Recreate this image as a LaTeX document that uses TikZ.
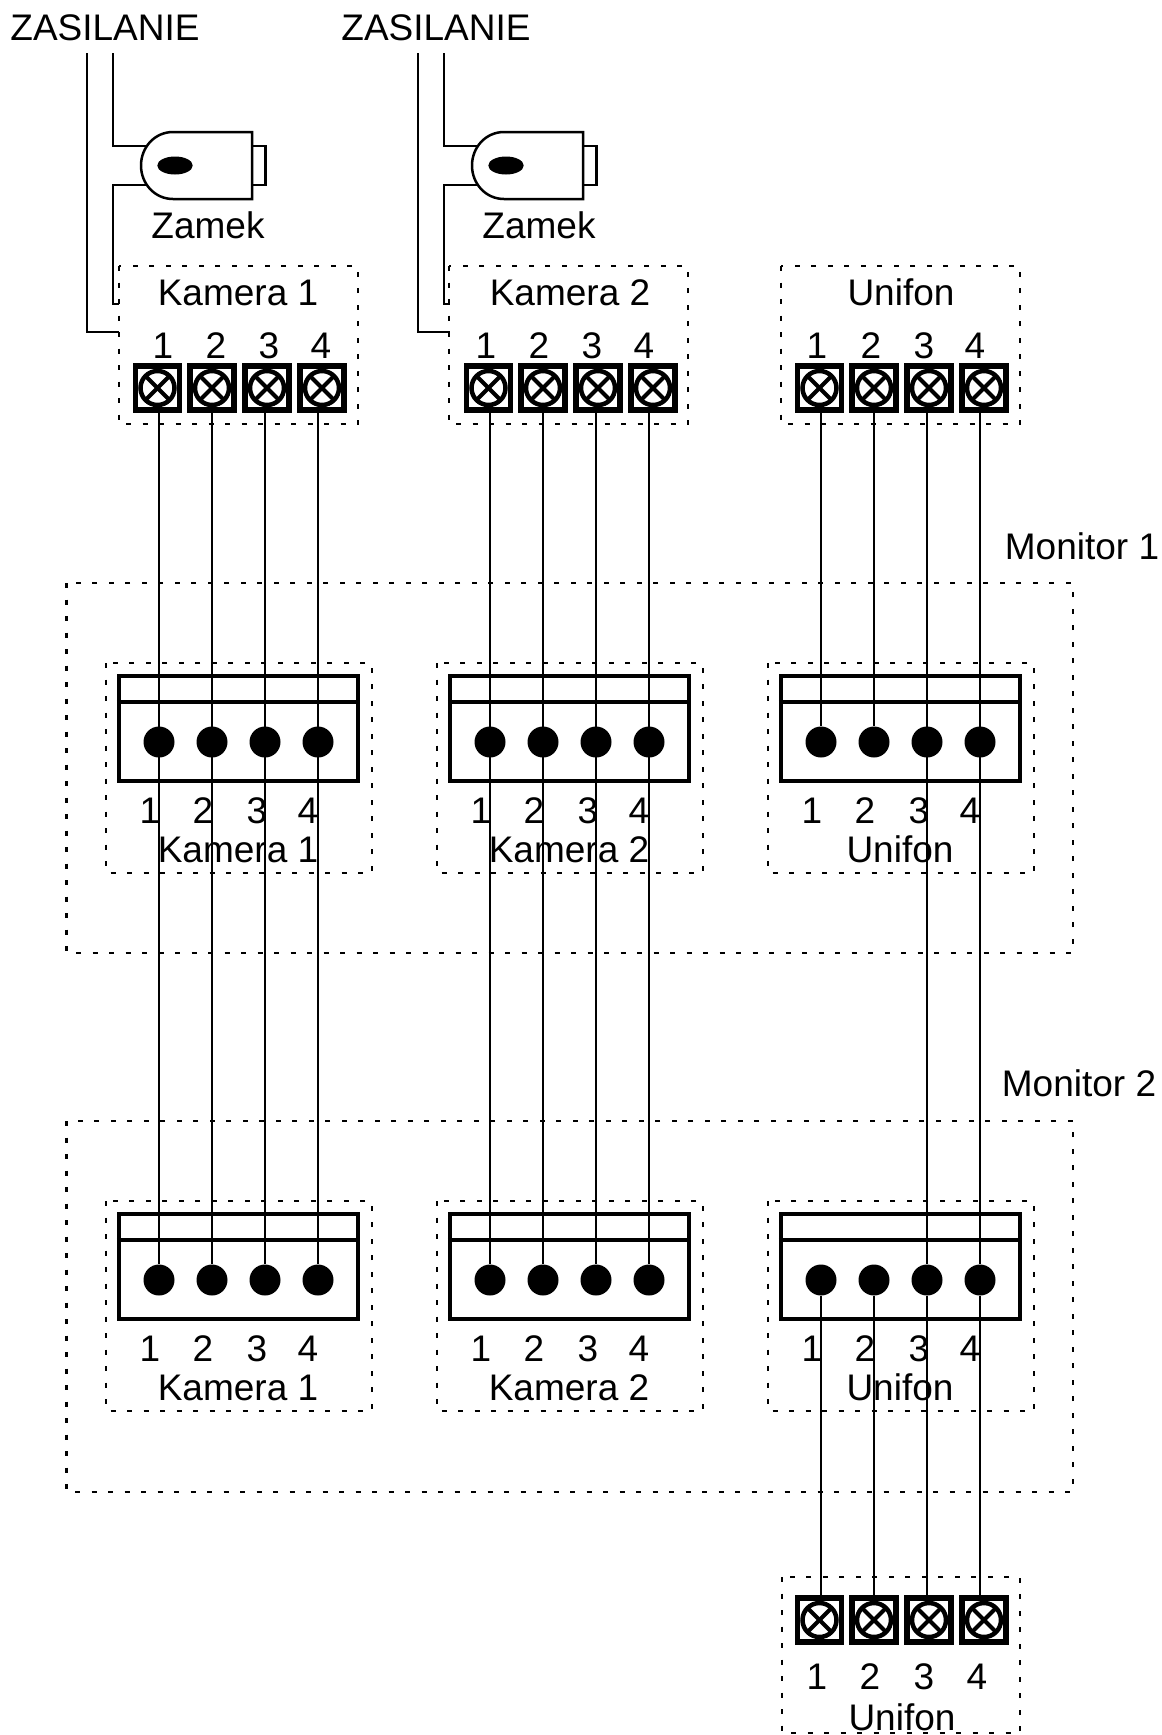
\documentclass[tikz,border=0pt]{standalone}
\usepackage{fontspec}
\setmainfont{Liberation Sans}
\tikzset{
  napis/.style={font=\fontsize{37}{37}\selectfont, anchor=base, inner sep=0pt},
  ramka/.style={line width=2.8pt, dash pattern=on 5pt off 11.5pt},
  przewod/.style={line width=2.5pt},
  zacisk/.style={rectangle, draw, line width=5.5pt, minimum size=44pt, inner sep=0pt,
    path picture={
      \draw[line width=4.5pt] (path picture bounding box.center) circle (17pt);
      \draw[line width=4pt] ([shift={(45:18pt)}]path picture bounding box.center) -- ([shift={(225:18pt)}]path picture bounding box.center);
      \draw[line width=4pt] ([shift={(135:18pt)}]path picture bounding box.center) -- ([shift={(315:18pt)}]path picture bounding box.center);
    }},
  styk/.style={circle, fill, minimum size=31pt, inner sep=0pt},
  kostka/.style={rectangle, draw, line width=4.5pt, minimum width=239pt, minimum height=105pt, inner sep=0pt}
}
% gniazdo monitora: nazwa, przesuniecie x, przesuniecie y, opis
\newcommand{\gniazdo}[4]{
  \begin{scope}[xshift=#2pt, yshift=-#3pt]
    \draw[ramka] (106,663) rectangle (372,873);
    \node[kostka] (#1) at (238.5,728.5) {};
    \draw[line width=4pt] (#1.west |- 0,702) -- (#1.east |- 0,702);
    \foreach \n/\x/\t in {1/159/150,2/212/203,3/265/257,4/318/308} {
      \node[styk] (#1s\n) at (\x,742) {};
      \node[napis] (#1n\n) at (\t,823) {\n};
    }
    \node[napis] (#1o) at (238,862) {#4};
  \end{scope}
}
% listwa zaciskow: nazwa, przesuniecie x, y srodka
\newcommand{\listwa}[3]{
  \begin{scope}[xshift=#2pt]
    \foreach \n/\x in {1/157.5,2/212,3/267,4/322}
      \node[zacisk] (#1z\n) at (\x,#3) {};
  \end{scope}
}
% zasilanie i zamek: nazwa, przesuniecie x
\newcommand{\zamek}[2]{
  \begin{scope}[xshift=#2pt]
    \node[napis] (#1zas) at (105,40.5) {ZASILANIE};
    \node[napis] (#1zam) at (208,238) {Zamek};
    \draw[przewod] (252,132) -- (173,132) .. controls (155,132) and (141,147) .. (141,165.5)
      .. controls (141,184) and (155,199) .. (173,199) -- (252,199) -- cycle;
    \draw[przewod] (252,146) -- (265.5,146) -- (265.5,185) -- (252,185);
    \fill (175,165.5) ellipse (17.7 and 9);
    \coordinate (#1a) at (87,53);
    \coordinate (#1b) at (113,53);
    \coordinate (#1c) at (146,146);
    \coordinate (#1d) at (146,185);
    \coordinate (#1e) at (119,304);
    \coordinate (#1f) at (119,332);
    \draw[przewod] (#1a) |- (#1f);
    \draw[przewod] (#1b) |- (#1c);
    \draw[przewod] (#1d) -| (#1b |- #1e) -- (#1e);
  \end{scope}
}
\begin{document}
\begin{tikzpicture}[x=1pt, y=-1pt]
\useasboundingbox (0,0) rectangle (1162,1735);

% gora
\zamek{a}{0}
\zamek{b}{331}
\draw[ramka] (119,266) rectangle (358,424);
\draw[ramka] (449,266) rectangle (688,424);
\draw[ramka] (781,266) rectangle (1020,424);
\node[napis] (kam1o) at (238,305) {Kamera 1};
\node[napis] (kam2o) at (570,305) {Kamera 2};
\node[napis] (unio)  at (901,305) {Unifon};
\foreach \n/\x/\y/\z in {1/163/486/817,2/216/539/871,3/269/592/924,4/321/644/975} {
  \node[napis] (kam1n\n) at (\x,358) {\n};
  \node[napis] (kam2n\n) at (\y,358) {\n};
  \node[napis] (unin\n)  at (\z,358) {\n};
}
\listwa{kam1}{0}{388}
\listwa{kam2}{331}{388}
\listwa{uni}{662}{388}

% monitory
\node[napis] (mon1) at (1082,559) {Monitor 1};
\node[napis] (mon2) at (1079,1096) {Monitor 2};
\draw[ramka] (66.5,583) rectangle (1073,953);
\draw[ramka] (66.5,1121) rectangle (1073,1492);
\gniazdo{maa}{0}{0}{Kamera 1}
\gniazdo{mab}{331}{0}{Kamera 2}
\gniazdo{mac}{662}{0}{Unifon}
\gniazdo{mba}{0}{538}{Kamera 1}
\gniazdo{mbb}{331}{538}{Kamera 2}
\gniazdo{mbc}{662}{538}{Unifon}

% dol
\draw[ramka] (782,1577) rectangle (1020,1733);
\listwa{dol}{662}{1620}
\foreach \n/\x in {1/817,2/870,3/924,4/977}
  \node[napis] (doln\n) at (\x,1689) {\n};
\node[napis] (dolo) at (902,1730) {Unifon};

% przewody
\foreach \n in {1,2,3,4} {
  \draw[przewod] (kam1z\n.south -| mbas\n) -- (mbas\n);
  \draw[przewod] (kam2z\n.south -| mbbs\n) -- (mbbs\n);
}
\foreach \n in {1,2}
  \draw[przewod] (uniz\n.south -| macs\n) -- (macs\n);
\foreach \n in {3,4}
  \draw[przewod] (uniz\n.south -| mbcs\n) -- (mbcs\n);
\foreach \n in {1,2,3,4}
  \draw[przewod] (mbcs\n) -- (dolz\n.north -| mbcs\n);
\end{tikzpicture}
\end{document}
